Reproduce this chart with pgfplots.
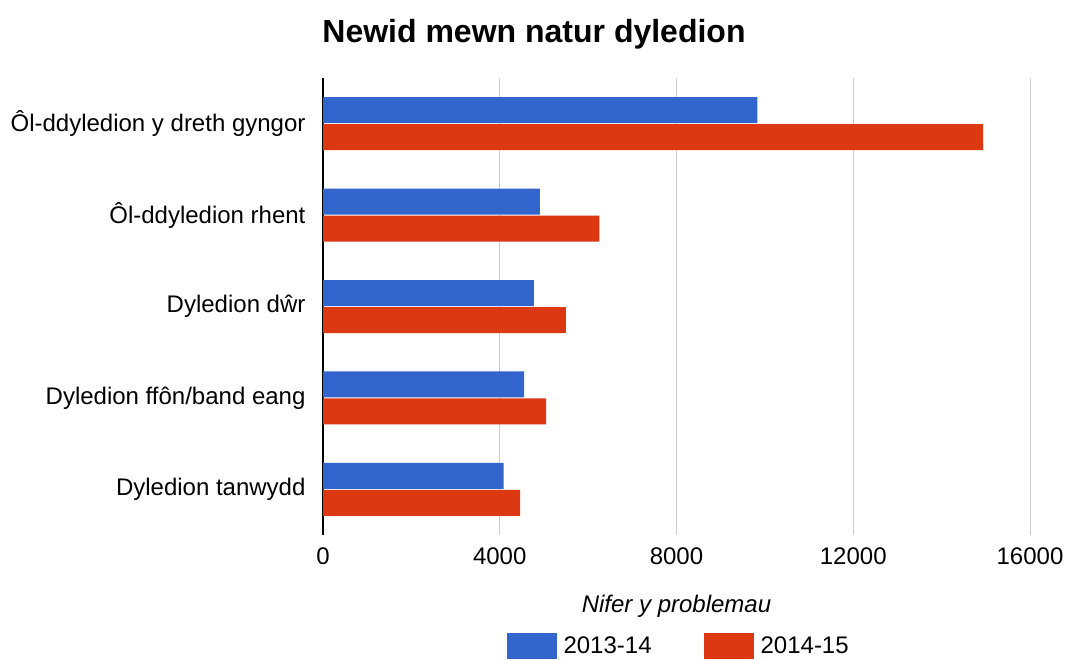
\documentclass[border=0pt]{standalone}
\usepackage{pgfplots}
\pgfplotsset{compat=1.18}
\usepackage{fontspec}
\setmainfont{Liberation Sans}
\definecolor{gblue}{HTML}{3366CC}
\definecolor{gred}{HTML}{DC3912}
\definecolor{ggrid}{HTML}{CCCCCC}
\begin{document}
\begin{tikzpicture}[x=1pt,y=1pt]
\path[use as bounding box] (0,0) rectangle (1068,660);
\node[anchor=base, font=\bfseries\fontsize{32}{38}\selectfont] at (534,617) {Newid mewn natur dyledion};
\begin{axis}[
  at={(323pt,125pt)}, anchor=south west,
  scale only axis, width=707pt, height=457pt,
  xbar, bar width=26pt,
  xmin=0, xmax=16000, ymin=-0.5, ymax=4.5, y dir=reverse,
  ytick={0,1,2,3,4},
  yticklabels={Ôl-ddyledion y dreth gyngor, Ôl-ddyledion rhent, Dyledion dŵr, Dyledion ffôn/band eang, Dyledion tanwydd},
  xtick={4000,8000,12000,16000},
  extra x ticks={0},
  extra x tick style={grid style={black, line width=1.2pt}},
  scaled x ticks=false,
  /pgf/number format/assume math mode=true,
  /pgf/number format/1000 sep={},
  xmajorgrids, grid style={ggrid, line width=1pt},
  axis line style={draw=none},
  major tick length=0pt,
  tick style={draw=none},
  xticklabel style={font=\fontsize{24}{28}\selectfont, yshift=-9pt},
  yticklabel style={font=\fontsize{24}{28}\selectfont, xshift=-14pt},
  xlabel={\itshape Nifer y problemau},
  xlabel style={at={(axis description cs:0.5,-0.155)}, anchor=center, font=\fontsize{24}{28}\selectfont},
  legend columns=2,
  legend style={at={(0.503,-0.243)}, anchor=center, draw=none, fill=none,
    font=\fontsize{24}{28}\selectfont,
    /tikz/every even column/.append style={column sep=50pt}},
  legend image code/.code={\fill[#1] (0pt,-13pt) rectangle (50pt,13pt); \path (55pt,0pt);},
]
\addplot[fill=gblue, draw=none, bar shift=13.5pt] coordinates {(9830,0) (4910,1) (4775,2) (4550,3) (4090,4)};
\addplot[fill=gred, draw=none, bar shift=-13.5pt] coordinates {(14940,0) (6255,1) (5495,2) (5050,3) (4460,4)};
\legend{2013-14, 2014-15}
\end{axis}
\end{tikzpicture}
\end{document}
